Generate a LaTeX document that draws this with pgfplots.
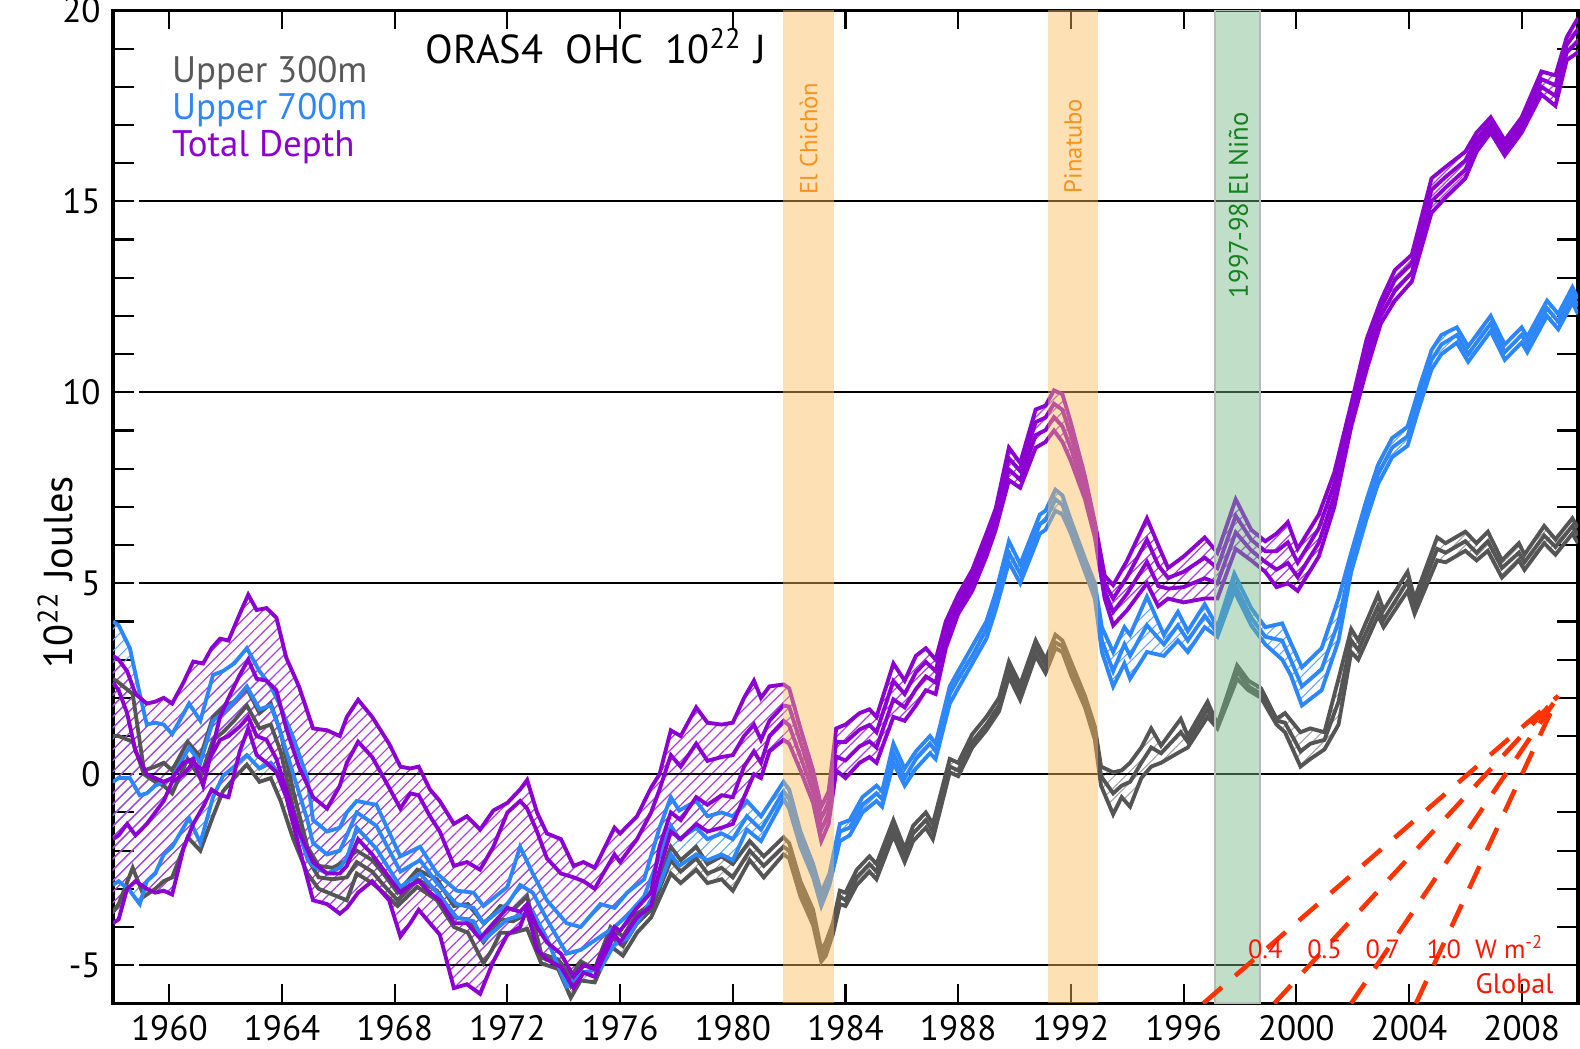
\documentclass[border=0pt]{standalone}
\usepackage{pgfplots}
\pgfplotsset{compat=1.18}
\usepackage{pgfplotstable}
\usepgfplotslibrary{fillbetween}
\usetikzlibrary{patterns.meta}
\usepackage{fontspec}
\setmainfont{PT Sans}

\definecolor{cgray}{RGB}{85,85,85}
\definecolor{cblue}{RGB}{45,135,250}
\definecolor{cpurp}{RGB}{140,0,210}
\definecolor{bandor}{RGB}{250,186,88}
\definecolor{bandgr}{RGB}{115,182,133}
\definecolor{cred}{RGB}{255,51,0}
\definecolor{ctxtred}{RGB}{255,20,0}
\definecolor{corange}{RGB}{247,147,30}
\definecolor{cgreen}{RGB}{20,130,30}
\definecolor{cleg}{RGB}{89,89,89}

\pgfplotstableread{
x U M L
1958.0 2.5 1.0 -3.6
1958.2 2.4 1.0 -3.4
1958.7 2.1 0.85 -2.45
1959.1 0.1 0.0 -3.2
1959.5 0.2 -0.2 -3.0
1959.8 0.3 -0.3 -2.8
1960.1 0.1 -0.5 -2.7
1960.65 0.85 0.4 -1.65
1961.1 0.45 -0.1 -2.0
1961.55 1.5 0.9 -1.1
1961.9 1.75 1.1 -0.45
1962.3 1.9 1.4 -0.1
1962.75 2.25 1.8 0.25
1963.2 1.6 1.2 -0.2
1963.6 1.85 1.3 -0.1
1963.95 1.1 0.6 -0.7
1964.4 -0.45 -0.9 -1.7
1964.9 -1.9 -2.2 -2.6
1965.3 -2.4 -2.7 -3.0
1965.8 -2.45 -2.75 -3.15
1966.3 -2.25 -2.7 -3.3
1966.65 -2.0 -2.3 -2.6
1967.2 -2.25 -2.55 -2.85
1967.6 -2.6 -2.9 -3.1
1968.1 -3.1 -3.3 -3.45
1968.8 -2.5 -2.75 -2.95
1969.5 -2.75 -3.05 -3.3
1970.1 -3.45 -3.75 -4.0
1970.6 -3.4 -3.8 -4.15
1971.15 -3.9 -4.4 -4.95
1971.45 -3.7 -4.1 -4.6
1971.75 -3.45 -3.8 -4.15
1972.2 -3.55 -3.85 -4.15
1972.7 -3.2 -3.65 -4.05
1973.2 -4.7 -4.8 -4.95
1973.8 -4.85 -4.95 -5.1
1974.25 -5.3 -5.55 -5.85
1974.6 -4.9 -5.15 -5.4
1975.1 -5.1 -5.3 -5.45
1975.66 -4.0 -4.25 -4.5
1976.1 -4.25 -4.5 -4.75
1976.6 -3.65 -3.9 -4.15
1977.1 -3.4 -3.55 -3.75
1977.8 -1.9 -2.25 -2.6
1978.15 -2.25 -2.55 -2.85
1978.7 -1.9 -2.2 -2.5
1979.1 -2.35 -2.6 -2.85
1979.6 -2.15 -2.45 -2.75
1980.0 -2.35 -2.7 -3.05
1980.6 -1.75 -2.0 -2.25
1981.1 -2.15 -2.4 -2.7
1981.8 -1.65 -1.9 -2.1
1982.0 -1.8 -2.0 -2.2
1982.4 -2.8 -3.0 -3.2
1982.85 -3.55 -3.75 -3.95
1983.14 -4.6 -4.75 -4.9
1983.3 -4.4 -4.6 -4.75
1983.55 -3.9 -4.05 -4.2
1983.8 -3.05 -3.2 -3.4
1984.0 -3.1 -3.3 -3.45
1984.4 -2.5 -2.7 -2.9
1984.85 -2.15 -2.35 -2.55
1985.1 -2.35 -2.55 -2.75
1985.7 -1.2 -1.4 -1.6
1986.1 -1.95 -2.1 -2.3
1986.4 -1.35 -1.55 -1.75
1986.85 -1.0 -1.2 -1.4
1987.1 -1.3 -1.5 -1.7
1987.7 0.4 0.2 0.05
1988.0 0.3 0.1 -0.05
1988.5 1.05 0.85 0.7
1989.0 1.5 1.3 1.15
1989.45 2.0 1.8 1.65
1989.8 2.95 2.75 2.55
1990.2 2.35 2.15 1.95
1990.75 3.5 3.3 3.1
1991.1 3.0 2.85 2.65
1991.45 3.65 3.45 3.3
1991.7 3.5 3.35 3.2
1992.0 2.95 2.8 2.6
1992.5 2.05 1.9 1.75
1992.85 1.25 1.05 0.9
1993.07 0.2 -0.05 -0.3
1993.5 0.05 -0.5 -1.05
1993.8 0.1 -0.3 -0.6
1994.1 0.3 -0.2 -0.85
1994.5 0.7 0.3 -0.1
1994.85 1.2 0.7 0.2
1995.2 0.75 0.55 0.3
1995.9 1.45 1.1 0.6
1996.15 1.0 0.85 0.7
1996.85 1.9 1.7 1.5
1997.2 1.3 1.25 1.2
1997.9 2.85 2.7 2.5
1998.3 2.45 2.3 2.2
1998.75 2.25 2.1 2.0
1999.3 1.45 1.4 1.3
1999.6 1.6 1.35 1.1
2000.15 1.1 0.6 0.2
2000.5 1.2 0.8 0.4
2001.0 1.1 0.9 0.65
2001.5 2.5 1.9 1.3
2001.95 3.8 3.5 3.2
2002.2 3.5 3.25 3.0
2002.9 4.7 4.4 4.15
2003.1 4.3 4.05 3.85
2003.95 5.3 5.05 4.8
2004.2 4.6 4.4 4.2
2005.0 6.2 5.9 5.6
2005.3 6.05 5.8 5.55
2006.0 6.35 6.1 5.85
2006.4 6.05 5.8 5.6
2006.8 6.35 6.1 5.85
2007.3 5.6 5.4 5.15
2007.9 6.05 5.8 5.6
2008.1 5.75 5.55 5.35
2008.8 6.5 6.25 6.05
2009.2 6.15 5.95 5.75
2009.8 6.7 6.5 6.3
2010.0 6.45 6.25 6.05
}\graytab

\pgfplotstableread{
x U M L
1958.0 4.0 -0.2 -2.9
1958.2 3.9 -0.1 -2.8
1958.6 3.3 -0.1 -3.05
1958.95 2.1 -0.55 -3.4
1959.2 1.3 -0.5 -2.8
1959.5 1.35 -0.3 -2.6
1959.8 1.3 -0.2 -2.1
1960.1 1.05 -0.1 -1.9
1960.7 1.85 0.7 -1.15
1961.1 1.4 0.3 -1.8
1961.55 2.6 1.4 -0.6
1961.9 2.7 1.6 -0.05
1962.3 2.9 1.9 0.2
1962.75 3.3 2.3 0.5
1963.2 2.7 1.7 0.15
1963.6 2.3 1.8 0.3
1963.9 1.85 1.2 0.0
1964.4 0.95 0.0 -1.05
1964.9 -0.1 -1.2 -2.2
1965.1 -1.2 -1.8 -2.4
1965.6 -1.5 -2.1 -2.6
1966.05 -1.4 -2.0 -2.45
1966.3 -1.0 -1.6 -2.2
1966.65 -0.7 -1.0 -1.4
1967.35 -0.8 -1.35 -1.95
1968.2 -2.15 -2.55 -2.95
1968.9 -1.9 -2.25 -2.6
1969.5 -2.6 -2.85 -3.1
1970.2 -3.05 -3.4 -3.75
1970.8 -3.1 -3.5 -3.85
1971.15 -3.45 -3.9 -4.35
1972.0 -2.95 -3.4 -3.8
1972.45 -1.9 -2.9 -3.7
1972.9 -2.6 -3.1 -3.6
1973.4 -3.3 -3.8 -4.3
1974.1 -3.9 -4.7 -5.55
1974.6 -4.0 -4.6 -5.2
1975.3 -3.4 -4.25 -5.1
1975.8 -3.5 -4.0 -4.45
1976.25 -3.1 -3.7 -4.3
1976.85 -2.75 -3.2 -3.6
1977.4 -1.4 -2.15 -2.9
1977.8 -0.6 -1.35 -2.1
1978.1 -0.95 -1.7 -2.4
1978.7 -0.7 -1.4 -2.1
1979.1 -1.1 -1.7 -2.25
1979.6 -1.0 -1.55 -2.1
1980.0 -1.1 -1.7 -2.25
1980.5 -0.7 -1.1 -1.45
1981.0 -1.1 -1.45 -1.75
1981.8 -0.2 -0.45 -0.65
1982.0 -0.4 -0.65 -0.9
1982.4 -1.5 -1.7 -1.9
1982.85 -2.35 -2.5 -2.7
1983.14 -3.1 -3.3 -3.45
1983.43 -2.6 -2.75 -2.9
1983.8 -1.3 -1.5 -1.75
1984.15 -1.2 -1.4 -1.6
1984.6 -0.6 -0.8 -1.0
1985.1 -0.3 -0.5 -0.7
1985.3 -0.45 -0.65 -0.85
1985.7 0.8 0.55 0.3
1986.1 0.15 -0.1 -0.3
1986.5 0.6 0.4 0.15
1987.0 1.0 0.8 0.55
1987.2 0.8 0.6 0.4
1987.7 2.3 2.1 1.85
1988.0 2.7 2.5 2.25
1988.5 3.35 3.1 2.9
1989.0 4.0 3.8 3.55
1989.33 4.75 4.5 4.3
1989.8 6.1 5.8 5.55
1990.2 5.5 5.25 5.0
1990.9 6.8 6.55 6.3
1991.1 6.9 6.65 6.4
1991.45 7.45 7.2 6.9
1991.7 7.3 7.05 6.8
1992.0 6.65 6.5 6.3
1992.5 5.65 5.5 5.3
1992.85 5.0 4.8 4.6
1993.1 3.85 3.5 3.2
1993.5 3.2 2.7 2.3
1993.9 3.85 3.4 2.9
1994.1 3.65 3.1 2.5
1994.7 4.65 3.9 3.2
1995.3 3.65 3.4 3.1
1995.8 4.25 3.9 3.5
1996.15 3.75 3.5 3.2
1996.75 4.45 4.15 3.85
1997.2 3.85 3.7 3.6
1997.8 5.25 5.0 4.8
1998.4 4.35 4.1 3.9
1998.9 3.85 3.6 3.4
1999.5 3.95 3.5 3.0
1999.8 3.45 3.0 2.6
2000.2 2.8 2.3 1.8
2000.9 3.3 2.75 2.2
2001.5 4.6 4.0 3.5
2001.95 5.8 5.55 5.3
2002.5 7.2 6.95 6.7
2002.9 8.1 7.85 7.6
2003.4 8.8 8.55 8.3
2003.95 9.1 8.85 8.6
2004.4 10.2 9.95 9.7
2004.8 11.1 10.85 10.6
2005.15 11.5 11.25 11.0
2005.7 11.7 11.5 11.3
2006.1 11.2 11.0 10.8
2006.9 12.0 11.8 11.6
2007.4 11.25 11.05 10.85
2008.0 11.7 11.5 11.3
2008.2 11.45 11.25 11.05
2008.9 12.4 12.2 12.0
2009.3 12.05 11.85 11.65
2009.8 12.75 12.55 12.35
2010.0 12.45 12.25 12.05
}\bluetab

\pgfplotstableread{
x U MA MB L
1958.0 3.1 2.4 -1.7 -3.9
1958.2 3.0 2.2 -1.6 -3.8
1958.5 2.7 1.6 -1.3 -3.0
1958.8 2.1 0.6 -1.6 -2.8
1959.2 1.85 0.0 -1.3 -3.0
1959.5 1.9 -0.1 -1.0 -3.1
1959.8 2.0 -0.2 -0.7 -3.05
1960.1 1.85 -0.1 -0.2 -3.15
1960.5 2.4 0.3 0.0 -1.95
1960.85 2.95 0.4 0.3 -1.3
1961.2 2.9 -0.3 0.1 -0.85
1961.5 3.3 0.6 0.5 -0.4
1961.8 3.55 1.5 0.9 -0.55
1962.1 3.5 2.0 1.0 -0.6
1962.5 4.2 2.6 1.25 0.6
1962.8 4.7 3.0 1.5 1.2
1963.1 4.3 2.5 1.0 0.5
1963.45 4.35 2.45 0.9 0.3
1963.8 4.1 2.2 0.4 0.05
1964.15 3.05 1.2 -0.4 -0.6
1964.6 2.3 0.2 -1.5 -1.9
1965.1 1.2 -0.6 -2.3 -3.3
1965.6 1.15 -0.9 -2.6 -3.4
1966.05 1.0 -0.3 -2.6 -3.65
1966.3 1.5 0.3 -2.4 -3.5
1966.7 1.95 0.85 -1.7 -3.1
1967.2 1.5 0.45 -2.1 -2.8
1967.8 0.8 -0.35 -2.7 -3.3
1968.2 0.2 -0.9 -3.1 -4.25
1968.55 0.15 -0.5 -2.9 -3.9
1968.85 0.2 -0.55 -2.8 -3.55
1969.25 -0.4 -1.1 -3.1 -3.9
1969.6 -0.7 -1.5 -3.3 -4.2
1970.1 -1.3 -2.4 -3.9 -5.6
1970.56 -1.1 -2.3 -3.9 -5.5
1971.03 -1.45 -2.5 -4.3 -5.75
1971.5 -0.95 -1.9 -3.9 -4.9
1972.0 -0.75 -1.0 -3.5 -4.2
1972.45 -0.4 -0.7 -3.6 -4.0
1972.7 -0.15 -0.9 -3.4 -3.5
1973.05 -1.0 -1.5 -4.0 -4.6
1973.4 -1.55 -2.2 -4.4 -4.85
1973.9 -1.7 -2.6 -4.7 -5.05
1974.35 -2.4 -2.7 -5.3 -5.6
1974.7 -2.3 -2.8 -5.0 -5.2
1975.1 -2.45 -3.0 -5.1 -5.3
1975.4 -2.0 -2.6 -4.6 -4.8
1975.8 -1.4 -2.1 -4.0 -4.2
1976.0 -1.55 -2.3 -4.1 -4.4
1976.6 -1.1 -1.7 -3.5 -3.75
1977.1 -0.35 -1.0 -3.1 -3.45
1977.4 0.0 -0.4 -1.9 -2.5
1977.8 1.15 0.5 -1.0 -1.5
1978.15 1.0 0.2 -1.2 -1.7
1978.7 1.75 0.8 -0.6 -1.3
1979.1 1.35 0.35 -0.8 -1.5
1979.6 1.3 0.45 -0.55 -1.4
1980.0 1.35 0.5 -0.6 -1.3
1980.4 2.0 1.0 0.2 -0.6
1980.75 2.45 1.3 0.6 0.0
1981.0 2.0 0.9 0.3 -0.1
1981.3 2.3 1.4 1.0 0.6
1981.8 2.35 1.8 1.4 0.9
1982.0 2.25 1.77 1.28 0.8
1982.4 1.2 0.84 0.46 0.1
1982.85 0.1 -0.18 -0.47 -0.75
1983.14 -0.85 -1.15 -1.45 -1.75
1983.4 -0.45 -0.73 -1.02 -1.3
1983.67 1.2 0.84 0.46 0.1
1984.0 1.3 0.84 0.36 -0.1
1984.5 1.6 1.17 0.73 0.3
1984.85 1.7 1.29 0.86 0.45
1985.1 1.5 1.1 0.7 0.3
1985.7 2.9 2.44 1.96 1.5
1986.1 2.45 2.1 1.75 1.4
1986.5 3.1 2.67 2.23 1.8
1986.85 3.3 2.94 2.56 2.2
1987.2 3.0 2.7 2.4 2.1
1987.56 4.0 3.77 3.53 3.3
1988.0 4.7 4.53 4.37 4.2
1988.5 5.35 5.17 4.98 4.8
1989.0 6.3 6.1 5.9 5.7
1989.33 6.95 6.77 6.58 6.4
1989.8 8.55 8.27 7.98 7.7
1990.2 8.15 7.94 7.71 7.5
1990.75 9.55 9.22 8.88 8.55
1991.1 9.65 9.34 9.01 8.7
1991.4 10.05 9.7 9.35 9.0
1991.7 9.95 9.54 9.11 8.7
1992.0 9.2 8.87 8.53 8.2
1992.5 7.8 7.6 7.4 7.2
1992.85 6.6 6.47 6.33 6.2
1993.2 5.2 5.0 4.8 4.6
1993.5 4.95 4.6 4.25 3.9
1994.0 5.6 5.17 4.73 4.3
1994.7 6.7 6.14 5.56 5.0
1995.1 6.0 5.47 4.93 4.4
1995.45 5.4 5.14 4.86 4.6
1996.0 5.7 5.3 4.9 4.5
1996.75 6.2 5.67 5.13 4.6
1997.2 5.8 5.4 5.0 4.6
1997.85 7.2 6.77 6.33 5.9
1998.4 6.4 6.14 5.86 5.6
1998.9 6.1 5.84 5.56 5.3
1999.3 6.3 5.84 5.36 4.9
1999.7 6.6 6.07 5.53 5.0
2000.05 5.9 5.54 5.16 4.8
2000.8 6.8 6.44 6.06 5.7
2001.35 7.9 7.6 7.3 7.0
2001.95 9.7 9.5 9.3 9.1
2002.5 11.4 11.14 10.86 10.6
2003.0 12.4 12.2 12.0 11.8
2003.5 13.2 12.94 12.66 12.4
2004.1 13.6 13.37 13.13 12.9
2004.8 15.6 15.3 15.0 14.7
2005.3 15.9 15.64 15.36 15.1
2006.0 16.3 16.07 15.83 15.6
2006.4 16.8 16.63 16.47 16.3
2006.9 17.2 17.07 16.93 16.8
2007.4 16.6 16.47 16.33 16.2
2008.0 17.2 17.07 16.93 16.8
2008.7 18.4 18.2 18.0 17.8
2009.2 18.3 18.04 17.76 17.5
2009.6 19.3 19.1 18.9 18.7
2010.0 19.8 19.5 19.2 18.9
}\purtab

\begin{document}
\begin{tikzpicture}
\begin{axis}[
  at={(0,0)}, anchor=south west,
  scale only axis, width=146.5mm, height=99.3mm,
  xmin=1958, xmax=2010, ymin=-6, ymax=20,
  xtick={1960,1964,1968,1972,1976,1980,1984,1988,1992,1996,2000,2004,2008},
  xticklabels={1960,1964,1968,1972,1976,1980,1984,1988,1992,1996,2000,2004,2008},
  xticklabel pos=lower,
  ytick={-5,0,5,10,15,20},
  yticklabels={-5,0,5,10,15,20},
  yticklabel pos=left,
  minor ytick={-6,-5,...,20},
  tick align=inside,
  major tick length=1.9mm, minor tick length=2.1mm,
  tick style={black, line width=0.6pt},
  ticklabel style={font=\fontsize{10}{12}\selectfont},
  axis line style={black, line width=0.9pt},
  every axis y label/.style={at={(axis description cs:-0.0393,0.434)}, rotate=90, anchor=center, font=\fontsize{11.5}{13}\selectfont},
  ylabel={10\textsuperscript{22} Joules},
  clip=true,
]
% horizontal reference lines
\addplot[black, line width=0.6pt, forget plot] coordinates {(1958.93,-5) (2010,-5)};
\addplot[black, line width=0.6pt, forget plot] coordinates {(1958.93,0) (2010,0)};
\addplot[black, line width=0.6pt, forget plot] coordinates {(1958.93,5) (2010,5)};
\addplot[black, line width=0.6pt, forget plot] coordinates {(1958.93,10) (2010,10)};
\addplot[black, line width=0.6pt, forget plot] coordinates {(1958.93,15) (2010,15)};
% envelopes
\addplot[draw=none, name path=pU, forget plot] table[x=x,y=U]{\purtab};
\addplot[draw=none, name path=pL, forget plot] table[x=x,y=L]{\purtab};
\addplot[draw=none, name path=bU, forget plot] table[x=x,y=U]{\bluetab};
\addplot[draw=none, name path=bL, forget plot] table[x=x,y=L]{\bluetab};
\addplot[draw=none, name path=gU, forget plot] table[x=x,y=U]{\graytab};
\addplot[draw=none, name path=gL, forget plot] table[x=x,y=L]{\graytab};
\addplot[pattern={Lines[angle=45,distance=2.2pt,line width=0.3pt]}, pattern color=cgray!55, forget plot] fill between[of=gU and gL];
\addplot[pattern={Lines[angle=45,distance=2.2pt,line width=0.3pt]}, pattern color=cblue!75, forget plot] fill between[of=bU and bL];
\addplot[pattern={Lines[angle=45,distance=2.2pt,line width=0.35pt]}, pattern color=cpurp!75, forget plot] fill between[of=pU and pL];
% gray lines
\addplot[cgray, line width=1.1pt] table[x=x,y=U]{\graytab};
\addplot[cgray, line width=1.1pt] table[x=x,y=M]{\graytab};
\addplot[cgray, line width=1.1pt] table[x=x,y=L]{\graytab};
% blue lines
\addplot[cblue, line width=1.1pt] table[x=x,y=U]{\bluetab};
\addplot[cblue, line width=1.1pt] table[x=x,y=M]{\bluetab};
\addplot[cblue, line width=1.1pt] table[x=x,y=L]{\bluetab};
% purple lines
\addplot[cpurp, line width=1.1pt] table[x=x,y=U]{\purtab};
\addplot[cpurp, line width=1.1pt] table[x=x,y=MA]{\purtab};
\addplot[cpurp, line width=1.1pt] table[x=x,y=MB]{\purtab};
\addplot[cpurp, line width=1.1pt] table[x=x,y=L]{\purtab};
% event bands
\addplot[draw=none, fill=bandor, fill opacity=0.45] coordinates {(1981.79,-6) (1983.58,-6) (1983.58,20) (1981.79,20)} -- cycle;
\addplot[draw=none, fill=bandor, fill opacity=0.45] coordinates {(1991.19,-6) (1992.96,-6) (1992.96,20) (1991.19,20)} -- cycle;
\addplot[draw={rgb,255:red,185;green,185;blue,185}, line width=0.6pt, fill=bandgr, fill opacity=0.45] coordinates {(1997.13,-6) (1998.71,-6) (1998.71,20) (1997.13,20)} -- cycle;
% forcing-rate lines
\addplot[cred, line width=1.3pt, dash pattern=on 7pt off 5pt] coordinates {(1996.7,-6) (2009.3,2.05)};
\addplot[cred, line width=1.3pt, dash pattern=on 7pt off 5pt] coordinates {(1999.22,-6) (2009.3,2.05)};
\addplot[cred, line width=1.3pt, dash pattern=on 7pt off 5pt] coordinates {(2001.95,-6) (2009.3,2.05)};
\addplot[cred, line width=1.3pt, dash pattern=on 7pt off 5pt] coordinates {(2004.25,-6) (2009.3,2.05)};
% texts
\node[anchor=base, inner sep=0pt, font=\fontsize{11.5}{13}\selectfont] at (axis cs:1975.14,18.6) {ORAS4\hspace{0.55em}OHC\hspace{0.55em}10\textsuperscript{22}\hspace{0.3em}J};
\node[anchor=base west, inner sep=0pt, text=cleg, font=\fontsize{10.5}{12}\selectfont] at (axis cs:1960.07,18.10) {Upper 300m};
\node[anchor=base west, inner sep=0pt, text=cblue, font=\fontsize{10.5}{12}\selectfont] at (axis cs:1960.07,17.15) {Upper 700m};
\node[anchor=base west, inner sep=0pt, text=cpurp, font=\fontsize{10.5}{12}\selectfont] at (axis cs:1960.07,16.17) {Total Depth};
\node[rotate=90, anchor=west, inner sep=0pt, text=corange, font=\fontsize{7}{8}\selectfont] at (axis cs:1982.69,15.15) {El Chichòn};
\node[rotate=90, anchor=west, inner sep=0pt, text=corange, font=\fontsize{7}{8}\selectfont] at (axis cs:1992.08,15.2) {Pinatubo};
\node[rotate=90, anchor=west, inner sep=0pt, text=cgreen, font=\fontsize{7.6}{9}\selectfont] at (axis cs:1997.95,12.45) {1997-98 El Niño};
\node[anchor=base, inner sep=0pt, text=ctxtred, font=\fontsize{7.5}{9}\selectfont] at (axis cs:1998.9,-4.83) {0.4};
\node[anchor=base, inner sep=0pt, text=ctxtred, font=\fontsize{7.5}{9}\selectfont] at (axis cs:2001.0,-4.83) {0.5};
\node[anchor=base, inner sep=0pt, text=ctxtred, font=\fontsize{7.5}{9}\selectfont] at (axis cs:2003.07,-4.83) {0.7};
\node[anchor=base, inner sep=0pt, text=ctxtred, font=\fontsize{7.5}{9}\selectfont] at (axis cs:2005.24,-4.83) {1.0};
\node[anchor=base, inner sep=0pt, text=ctxtred, font=\fontsize{7.5}{9}\selectfont] at (axis cs:2007.57,-4.83) {W m\textsuperscript{-2}};
\node[anchor=base, inner sep=0pt, text=ctxtred, font=\fontsize{8}{9}\selectfont] at (axis cs:2007.75,-5.75) {Global};
\end{axis}
\pgfresetboundingbox
\path[use as bounding box] (-11.3mm,-4.5mm) rectangle (146.7mm,100.34mm);
\end{tikzpicture}
\end{document}
